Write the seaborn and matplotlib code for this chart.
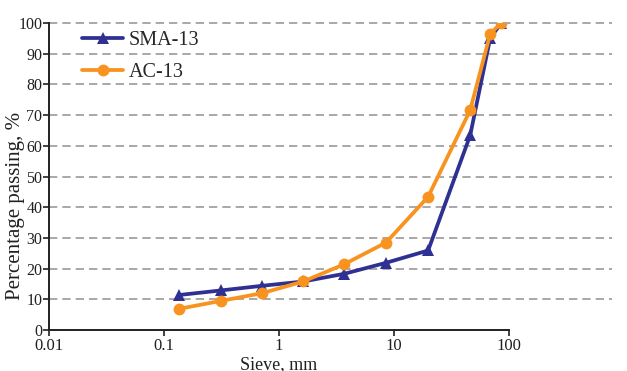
import pandas as pd
import seaborn as sns
import matplotlib.pyplot as plt

# sieve positions as they sit on the log axis
sieve = [0.136, 0.316, 0.716, 1.63, 3.69, 8.55, 19.8, 45.9, 68.5, 85.4]
sma13 = [11.4, 12.9, 14.4, 15.8, 18.3, 21.9, 25.9, 63.4, 95.1, 100.0]
ac13 = [6.9, 9.5, 12.0, 15.8, 21.4, 28.5, 43.4, 71.6, 96.5, 100.0]
yticks = list(range(0, 101, 10))

data = pd.DataFrame({'Sieve': sieve, 'SMA-13': sma13, 'AC-13': ac13})

sns.set_style('ticks')
plt.rcParams['font.family'] = ['Liberation Serif', 'DejaVu Serif']
ink = '#231f20'

fig = plt.figure(figsize=(6.27, 3.71), dpi=100)
ax = fig.add_axes([0.0774, 0.1105, 0.7346, 0.8275])

# dashed guide lines run past the end of the x axis
ax.hlines(yticks[1:], 0, 1.224, transform=ax.get_yaxis_transform(),
          colors='#9a9a9a', linestyles=(0, (5, 3)), linewidth=1.2,
          clip_on=False, zorder=0)

sns.lineplot(data=data, x='Sieve', y='SMA-13', ax=ax, color='#2e3192',
             linewidth=2.7, marker='^', markersize=8, markeredgewidth=0,
             label='SMA-13')
sns.lineplot(data=data, x='Sieve', y='AC-13', ax=ax, color='#f7931e',
             linewidth=2.7, marker='o', markersize=8.5, markeredgewidth=0,
             label='AC-13')

ax.set_xscale('log')
ax.set_xlim(0.01, 100)
ax.set_ylim(0, 100)
ax.set_xticks([0.01, 0.1, 1, 10, 100])
ax.set_xticklabels(['0.01', '0.1', '1', '10', '100'])
ax.set_yticks(yticks)
ax.minorticks_off()
ax.tick_params(axis='both', direction='out', length=4, width=1.2, colors=ink)
ax.tick_params(axis='y', labelsize=11.5, pad=0.5)
ax.tick_params(axis='x', labelsize=12, pad=2)

for side in ['top', 'right']:
    ax.spines[side].set_visible(False)
for side in ['left', 'bottom']:
    ax.spines[side].set_linewidth(1.4)
    ax.spines[side].set_color(ink)

ax.set_xlabel('Sieve, mm', fontsize=13, color=ink)
ax.set_ylabel('Percentage passing, %', fontsize=15, color=ink)
ax.xaxis.set_label_coords(0.5, -0.085)
ax.yaxis.set_label_coords(-0.051, 0.404)

ax.legend(loc='upper left', bbox_to_anchor=(0.073, 0.974), frameon=False,
          fontsize=14.5, handlelength=2.05, handletextpad=0.25,
          labelspacing=0.65, borderaxespad=0, borderpad=0)

fig.savefig('out.png', dpi=100)
plt.close(fig)
